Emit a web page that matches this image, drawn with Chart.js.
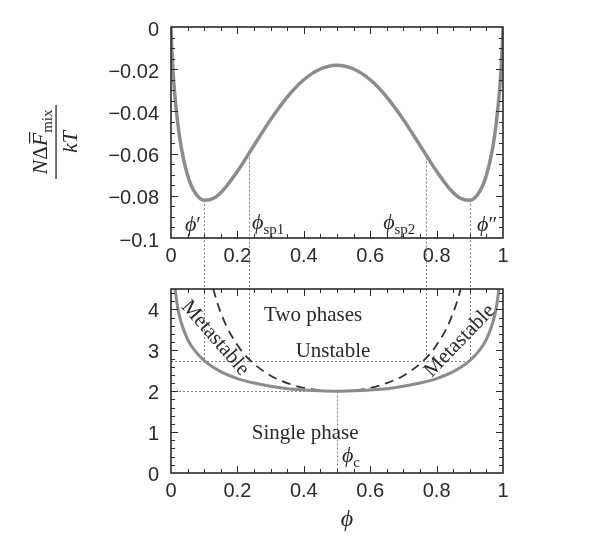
<!DOCTYPE html>
<html>
<head>
<meta charset="utf-8">
<script src="https://cdn.jsdelivr.net/npm/chart.js@4.4.1/dist/chart.umd.min.js"></script>
<style>
  html, body { margin: 0; padding: 0; background: #fff; }
  #wrap { position: relative; width: 616px; height: 554px; }
  canvas { position: absolute; left: 0; }
  #topChart { top: 0; }
  #botChart { top: 265px; }
</style>
</head>
<body>
<div id="wrap">
  <canvas id="topChart" width="616" height="265"></canvas>
  <canvas id="botChart" width="616" height="289"></canvas>
</div>
<script>
// top panel: N dF_mix / kT against phi
const phiTop = [0, 0.001, 0.005, 0.01, 0.02, 0.03, 0.05, 0.07, 0.1, 0.13, 0.16, 0.2, 0.25, 0.3, 0.35, 0.4, 0.45, 0.5,
  0.55, 0.6, 0.65, 0.7, 0.75, 0.8, 0.84, 0.87, 0.9, 0.93, 0.95, 0.97, 0.98, 0.99, 0.995, 0.999, 1];
const fTop = [0, -0.0052, -0.0180, -0.0293, -0.0451, -0.0562, -0.0703, -0.0779, -0.0821, -0.0810, -0.0768, -0.0684, -0.0561, -0.0439, -0.0332, -0.0250, -0.0199, -0.0181,
  -0.0199, -0.0250, -0.0332, -0.0439, -0.0561, -0.0684, -0.0768, -0.0810, -0.0821, -0.0779, -0.0703, -0.0562, -0.0451, -0.0293, -0.0180, -0.0052, 0];

// bottom panel: binodal (solid) and spinodal (dashed)
const phiBinodal = [0.012, 0.02, 0.03, 0.05, 0.07, 0.1, 0.15, 0.2, 0.25, 0.3, 0.35, 0.4, 0.45, 0.5,
  0.55, 0.6, 0.65, 0.7, 0.75, 0.8, 0.85, 0.9, 0.93, 0.95, 0.97, 0.98, 0.988];
const nChiBinodal = [4.52, 4.05, 3.70, 3.27, 3.01, 2.75, 2.48, 2.31, 2.20, 2.12, 2.06, 2.03, 2.01, 2.00,
  2.01, 2.03, 2.06, 2.12, 2.20, 2.31, 2.48, 2.75, 3.01, 3.27, 3.70, 4.05, 4.52];
const phiSpinodal = [0.127, 0.14, 0.15, 0.17, 0.2, 0.22, 0.25, 0.3, 0.35, 0.4, 0.45, 0.5,
  0.55, 0.6, 0.65, 0.7, 0.75, 0.78, 0.8, 0.83, 0.85, 0.86, 0.873];
const nChiSpinodal = [4.51, 4.15, 3.92, 3.54, 3.13, 2.91, 2.67, 2.38, 2.20, 2.08, 2.02, 2.00,
  2.02, 2.08, 2.20, 2.38, 2.67, 2.91, 3.13, 3.54, 3.92, 4.15, 4.51];

// marked compositions: phi', phi_sp1, phi_sp2, phi''
const phiMarks = [0.098, 0.235, 0.768, 0.902];
const fMarks = [-0.0821, -0.0600, -0.0600, -0.0821];
const nChiMarks = 2.75;
const phiCrit = 0.5;
const nChiCrit = 2;

// tick labels
const xTicks = [0, 0.2, 0.4, 0.6, 0.8, 1];
const yTicksTop = [0, -0.02, -0.04, -0.06, -0.08, -0.1];
const yTicksBot = [0, 1, 2, 3, 4];

const SANS = '"Liberation Sans", Arial, Helvetica, sans-serif';
const SERIF = '"Liberation Serif", "Times New Roman", serif';
const INK = '#2a2a2a';
const IT = 'italic 22px ' + SERIF;
const RM = '21px ' + SERIF;
const SUB = '15px ' + SERIF;
const PHI = '\u03D5';

function pts(xs, ys) { return xs.map((x, i) => ({ x: x, y: ys[i] })); }
function num(v) {
  const s = String(+Math.abs(v).toFixed(3));
  return v < 0 ? '\u2212' + s : s;
}

function axes(yTicks, yMin, yMax, xH, yOff) {
  return {
    x: {
      type: 'linear', min: 0, max: 1,
      afterFit: s => { s.height = xH; },
      afterBuildTicks: s => { s.ticks = xTicks.map(v => ({ value: v })); },
      grid: { display: false, drawTicks: false, tickLength: 0 },
      border: { display: false },
      ticks: { padding: 6, color: INK, maxRotation: 0, autoSkip: false, font: { family: SANS, size: 20 }, callback: v => num(v) }
    },
    y: {
      type: 'linear', min: yMin, max: yMax,
      afterFit: s => { s.width = 171; },
      afterBuildTicks: s => { s.ticks = yTicks.map(v => ({ value: v })); },
      grid: { display: false, drawTicks: false, tickLength: 0 },
      border: { display: false },
      ticks: { padding: 12, labelOffset: yOff, color: INK, autoSkip: false, font: { family: SANS, size: 20 }, callback: v => num(v) }
    }
  };
}

// frame with inward ticks on all four sides
function frame(xMinor, xMajor, yMinor, yMajor) {
  return {
    id: 'frame',
    afterDatasetsDraw(chart) {
      const { ctx, chartArea: a, scales: { x, y } } = chart;
      ctx.save();
      ctx.strokeStyle = INK;
      ctx.lineWidth = 1;
      ctx.beginPath();
      const nx = Math.round((x.max - x.min) / xMinor);
      for (let i = 1; i < nx; i++) {
        const v = x.min + i * xMinor;
        const len = Math.abs(v / xMajor - Math.round(v / xMajor)) < 1e-6 ? 7 : 4;
        const px = Math.round(x.getPixelForValue(v)) + 0.5;
        ctx.moveTo(px, a.bottom); ctx.lineTo(px, a.bottom - len);
        ctx.moveTo(px, a.top); ctx.lineTo(px, a.top + len);
      }
      const ny = Math.round((y.max - y.min) / yMinor);
      for (let i = 1; i <= ny; i++) {
        const v = y.min + i * yMinor;
        if (v > y.max - 1e-9) continue;
        const len = Math.abs(v / yMajor - Math.round(v / yMajor)) < 1e-6 ? 7 : 4;
        const py = Math.round(y.getPixelForValue(v)) + 0.5;
        ctx.moveTo(a.left, py); ctx.lineTo(a.left + len, py);
        ctx.moveTo(a.right, py); ctx.lineTo(a.right - len, py);
      }
      ctx.stroke();
      ctx.lineWidth = 1.6;
      ctx.strokeRect(a.left, a.top, a.right - a.left, a.bottom - a.top);
      ctx.restore();
    }
  };
}

// draws a run of text pieces [text, font, dy]
function rich(ctx, x, y, parts, align) {
  let w = 0;
  parts.forEach(p => { ctx.font = p[1]; w += ctx.measureText(p[0]).width; });
  let cx = align === 'center' ? x - w / 2 : align === 'right' ? x - w : x;
  const pos = [];
  parts.forEach(p => {
    ctx.font = p[1];
    ctx.fillText(p[0], cx, y + (p[2] || 0));
    const pw = ctx.measureText(p[0]).width;
    pos.push([cx, pw]);
    cx += pw;
  });
  return pos;
}

function dotted(ctx, x1, y1, x2, y2) {
  ctx.beginPath(); ctx.moveTo(x1, y1); ctx.lineTo(x2, y2); ctx.stroke();
}

const topDecor = {
  id: 'topDecor',
  beforeDatasetsDraw(chart) {
    const { ctx, scales: { x, y } } = chart;
    ctx.save();
    ctx.strokeStyle = '#808080'; ctx.lineWidth = 1; ctx.setLineDash([2, 2]);
    phiMarks.forEach((p, i) => {
      const px = Math.round(x.getPixelForValue(p)) + 0.5;
      dotted(ctx, px, y.getPixelForValue(fMarks[i]), px, chart.height);
    });
    ctx.restore();
  },
  afterDraw(chart) {
    const { ctx, scales: { x, y } } = chart;
    ctx.save();
    ctx.fillStyle = INK;
    ctx.textAlign = 'left'; ctx.textBaseline = 'alphabetic';
    rich(ctx, x.getPixelForValue(0.042), y.getPixelForValue(-0.0967), [[PHI, IT], ['\u2032', RM]], 'left');
    rich(ctx, x.getPixelForValue(0.244), y.getPixelForValue(-0.0957), [[PHI, IT], ['sp1', SUB, 5]], 'left');
    rich(ctx, x.getPixelForValue(0.639), y.getPixelForValue(-0.0957), [[PHI, IT], ['sp2', SUB, 5]], 'left');
    rich(ctx, x.getPixelForValue(0.922), y.getPixelForValue(-0.0967), [[PHI, IT], ['\u2033', RM]], 'left');

    // y title as a fraction
    ctx.translate(56, 142);
    ctx.rotate(-Math.PI / 2);
    const pos = rich(ctx, 0, -9, [['N', IT], ['Δ', RM], ['F', IT], ['mix', SUB, 5]], 'center');
    const f = pos[2];
    ctx.fillRect(f[0] + 3, -27, f[1] - 2, 1.2);
    ctx.fillRect(-37, -0.6, 74, 1.3);
    rich(ctx, 0, 21, [['kT', IT]], 'center');
    ctx.restore();
  }
};

const botDecor = {
  id: 'botDecor',
  beforeDatasetsDraw(chart) {
    const { ctx, scales: { x, y } } = chart;
    ctx.save();
    ctx.strokeStyle = '#808080'; ctx.lineWidth = 1; ctx.setLineDash([2, 2]);
    const yM = Math.round(y.getPixelForValue(nChiMarks)) + 0.5;
    phiMarks.forEach(p => {
      const px = Math.round(x.getPixelForValue(p)) + 0.5;
      dotted(ctx, px, 0, px, yM);
    });
    dotted(ctx, x.getPixelForValue(0), yM, x.getPixelForValue(phiMarks[3]), yM);
    const yC = Math.round(y.getPixelForValue(nChiCrit)) + 0.5;
    const xC = Math.round(x.getPixelForValue(phiCrit)) + 0.5;
    dotted(ctx, x.getPixelForValue(0), yC, xC, yC);
    dotted(ctx, xC, yC, xC, y.getPixelForValue(0));
    ctx.restore();
  },
  afterDraw(chart) {
    const { ctx, scales: { x, y } } = chart;
    ctx.save();
    ctx.fillStyle = INK;
    ctx.textAlign = 'center'; ctx.textBaseline = 'middle';
    ctx.font = RM;
    ctx.fillText('Two phases', x.getPixelForValue(0.428), y.getPixelForValue(3.86));
    ctx.fillText('Unstable', x.getPixelForValue(0.488), y.getPixelForValue(2.97));
    ctx.fillText('Single phase', x.getPixelForValue(0.404), y.getPixelForValue(0.97));

    ctx.save();
    ctx.translate(x.getPixelForValue(0.133), y.getPixelForValue(3.30));
    ctx.rotate(49 * Math.PI / 180);
    ctx.fillText('Metastable', 0, 0);
    ctx.restore();
    ctx.save();
    ctx.translate(x.getPixelForValue(0.870), y.getPixelForValue(3.23));
    ctx.rotate(-46 * Math.PI / 180);
    ctx.fillText('Metastable', 0, 0);
    ctx.restore();

    ctx.textAlign = 'left'; ctx.textBaseline = 'alphabetic';
    rich(ctx, x.getPixelForValue(0.515), y.getPixelForValue(0.26), [[PHI, IT], ['c', SUB, 5]], 'left');
    rich(ctx, 151, 397, [['Nχ', IT], ['c', SUB, 5]], 'right');
    rich(ctx, 347, 261, [[PHI, 'italic 24px ' + SERIF]], 'center');

    ctx.translate(88, 324);
    ctx.rotate(-Math.PI / 2);
    rich(ctx, 0, 6, [['Nχ', IT]], 'center');
    ctx.restore();
  }
};

const common = {
  responsive: false,
  animation: false,
  events: [],
  plugins: { legend: { display: false }, tooltip: { enabled: false } }
};

new Chart(document.getElementById('topChart'), {
  type: 'line',
  data: {
    datasets: [{
      data: pts(phiTop, fTop),
      borderColor: '#8c8c8c', borderWidth: 3.5, pointRadius: 0,
      cubicInterpolationMode: 'monotone', fill: false
    }]
  },
  options: Object.assign({}, common, {
    layout: { padding: { left: 0, right: 113, top: 27, bottom: 0 } },
    scales: axes(yTicksTop, -0.1, 0, 27, 3)
  }),
  plugins: [topDecor, frame(0.05, 0.2, 0.005, 0.02)]
});

new Chart(document.getElementById('botChart'), {
  type: 'line',
  data: {
    datasets: [{
      data: pts(phiBinodal, nChiBinodal),
      borderColor: '#8c8c8c', borderWidth: 3, pointRadius: 0,
      cubicInterpolationMode: 'monotone', fill: false
    }, {
      data: pts(phiSpinodal, nChiSpinodal),
      borderColor: '#333', borderWidth: 1.8, borderDash: [9, 6], pointRadius: 0,
      cubicInterpolationMode: 'monotone', fill: false
    }]
  },
  options: Object.assign({}, common, {
    layout: { padding: { left: 0, right: 113, top: 17, bottom: 0 } },
    scales: axes(yTicksBot, 0, 4.5, 81, 2)
  }),
  plugins: [botDecor, frame(0.05, 0.2, 0.2, 1)]
});
</script>
</body>
</html>
